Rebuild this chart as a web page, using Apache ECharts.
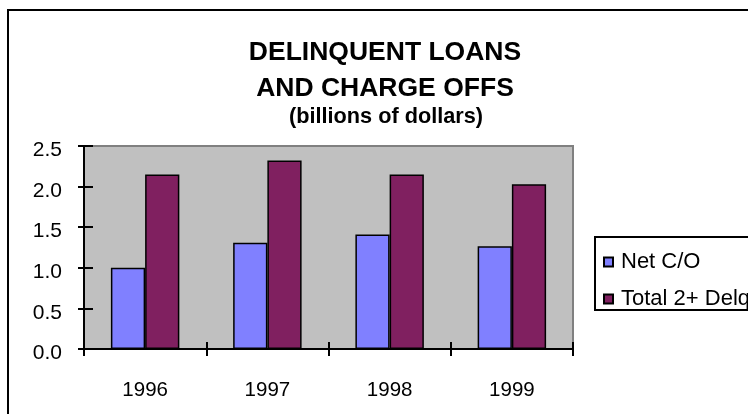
<!DOCTYPE html>
<html>
<head>
<meta charset="utf-8">
<script src="https://cdn.jsdelivr.net/npm/echarts@6/dist/echarts.min.js"></script>
<style>
  html, body { margin: 0; padding: 0; background: #fff; }
  #wrap { position: relative; width: 748px; height: 414px; overflow: hidden; }
  #frame { position: absolute; left: 7px; top: 9px; width: 900px; height: 600px; border: 2px solid #000; box-sizing: border-box; }
  #chart { position: absolute; left: 0; top: 0; width: 748px; height: 414px; }
</style>
</head>
<body>
<div id="wrap">
  <div id="frame"></div>
  <div id="chart"></div>
</div>
<script>
const titleLines = 'DELINQUENT LOANS\nAND CHARGE OFFS';
const subTitle = '(billions of dollars)';
const categories = ['1996', '1997', '1998', '1999'];
const seriesNames = ['Net C/O', 'Total 2+ Delq'];
const netCO = [1.0, 1.31, 1.41, 1.265];
const totalDelq = [2.15, 2.32, 2.15, 2.03];
const yMin = 0, yMax = 2.5, yStep = 0.5;

const FONT = 'Liberation Sans, Arial, sans-serif';
const chart = echarts.init(document.getElementById('chart'), null, { renderer: 'canvas' });

const grid = { left: 84, top: 146, width: 489, height: 203 };

chart.setOption({
  backgroundColor: 'transparent',
  animation: false,
  title: [
    { text: titleLines, left: 380, textAlign: 'center', top: 29.5, padding: 5,
      textStyle: { fontFamily: FONT, fontSize: 26.5, fontWeight: 'bold', color: '#000', lineHeight: 36 } },
    { text: subTitle, left: 381, textAlign: 'center', top: 101, padding: 5,
      textStyle: { fontFamily: FONT, fontSize: 21.7, fontWeight: 'bold', color: '#000', lineHeight: 22 } }
  ],
  legend: {
    orient: 'vertical',
    left: 595, top: 237,
    padding: [14, 20, 0, 8],
    itemGap: 15,
    itemWidth: 9, itemHeight: 9,
    icon: 'rect',
    borderColor: '#000', borderWidth: 2,
    backgroundColor: '#fff',
    textStyle: { fontFamily: FONT, fontSize: 22, color: '#000', lineHeight: 18, padding: [0, 0, 0, 3] },
    data: seriesNames
  },
  grid: Object.assign({ show: true, backgroundColor: '#C0C0C0', borderColor: '#808080', borderWidth: 2, outerBoundsMode: 'none', containLabel: false }, grid),
  xAxis: [
    { type: 'category', data: categories, position: 'bottom',
      axisLine: { show: true, lineStyle: { color: '#000', width: 2 } },
      axisTick: { show: true, inside: true, length: 7, lineStyle: { color: '#000', width: 2 } },
      axisLabel: { fontFamily: FONT, fontSize: 20.5, color: '#000', margin: 31 },
      splitLine: { show: false } },
    { type: 'category', data: categories, position: 'top', offset: -grid.height,
      axisLine: { show: false },
      axisTick: { show: true, inside: true, length: 7, lineStyle: { color: '#000', width: 2 } },
      axisLabel: { show: false },
      splitLine: { show: false } }
  ],
  yAxis: [
    { type: 'value', min: yMin, max: yMax, interval: yStep, position: 'left',
      axisLine: { show: true, lineStyle: { color: '#000', width: 2 } },
      axisTick: { show: true, inside: true, length: 9, lineStyle: { color: '#000', width: 2 } },
      axisLabel: { fontFamily: FONT, fontSize: 21, color: '#000', margin: 22,
        verticalAlign: 'top', lineHeight: 9,
        formatter: v => v.toFixed(1) },
      splitLine: { show: false } },
    { type: 'value', min: yMin, max: yMax, interval: yStep, position: 'right', offset: -grid.width,
      axisLine: { show: false },
      axisTick: { show: true, inside: true, length: 6, lineStyle: { color: '#000', width: 2 } },
      axisLabel: { show: false },
      splitLine: { show: false } }
  ],
  series: [
    { name: seriesNames[0], type: 'bar', data: netCO, xAxisIndex: 0, yAxisIndex: 0,
      barGap: '0%', barCategoryGap: '44%',
      itemStyle: { color: '#8080FF', borderColor: '#000', borderWidth: 1.5 } },
    { name: seriesNames[1], type: 'bar', data: totalDelq, xAxisIndex: 0, yAxisIndex: 0,
      barGap: '0%', barCategoryGap: '44%',
      itemStyle: { color: '#802060', borderColor: '#000', borderWidth: 1.5 } }
  ]
});
</script>
</body>
</html>
